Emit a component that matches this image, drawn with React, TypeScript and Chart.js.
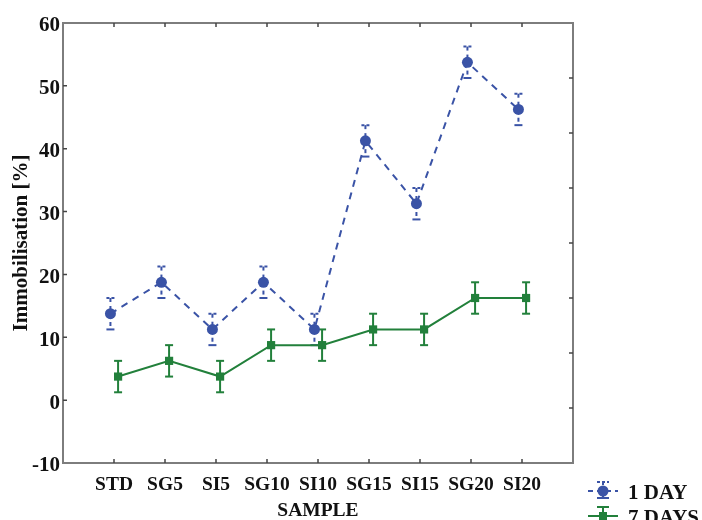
import { useEffect, useRef } from "react";
import { Chart, registerables } from "chart.js";

Chart.register(...registerables);

// ---- data ----
const CATEGORIES = ["STD", "SG5", "SI5", "SG10", "SI10", "SG15", "SI15", "SG20", "SI20"];
const SERIES_LABELS = ["1 DAY", "7 DAYS"];
const DAY1_VALUES = [13.75, 18.75, 11.25, 18.75, 11.25, 41.25, 31.25, 53.75, 46.25];
const DAY1_ERRORS = [2.5, 2.5, 2.5, 2.5, 2.5, 2.5, 2.5, 2.5, 2.5];
const DAY7_VALUES = [3.75, 6.25, 3.75, 8.75, 8.75, 11.25, 11.25, 16.25, 16.25];
const DAY7_ERRORS = [2.5, 2.5, 2.5, 2.5, 2.5, 2.5, 2.5, 2.5, 2.5];
const DAY1_SHIFT = -0.07;
const DAY7_SHIFT = 0.08;
const Y_MIN = -10;
const Y_MAX = 60;
const Y_STEP = 10;
const RIGHT_DIVISIONS = 8;

const BLUE = "#3a53a6";
const GREEN = "#22803b";
const FONT = "'Liberation Serif', 'Times New Roman', serif";

const frameAndErrorPlugin = {
  id: "frameAndError",
  beforeDatasetsDraw(chart: any) {
    const { ctx, chartArea } = chart;
    const { left, right, top, bottom } = chartArea;
    const xs = chart.scales.x;
    const ys = chart.scales.y;
    const y2 = chart.scales.y2;
    ctx.save();
    // frame
    ctx.strokeStyle = "#7d7d7d";
    ctx.lineWidth = 2;
    ctx.strokeRect(left, top, right - left, bottom - top);
    // inner ticks
    ctx.strokeStyle = "#444";
    ctx.lineWidth = 1.5;
    const tl = 4;
    ctx.beginPath();
    CATEGORIES.forEach((_, i) => {
      const px = xs.getPixelForValue(i + 1);
      ctx.moveTo(px, top);
      ctx.lineTo(px, top + tl);
      ctx.moveTo(px, bottom);
      ctx.lineTo(px, bottom - tl);
    });
    for (let v = Y_MIN + Y_STEP; v < Y_MAX; v += Y_STEP) {
      const py = ys.getPixelForValue(v);
      ctx.moveTo(left, py);
      ctx.lineTo(left + tl, py);
    }
    for (let k = 1; k < RIGHT_DIVISIONS; k++) {
      const py = y2 ? y2.getPixelForValue(k) : top + ((bottom - top) * k) / RIGHT_DIVISIONS;
      ctx.moveTo(right, py);
      ctx.lineTo(right - tl, py);
    }
    ctx.stroke();

    // error bars
    chart.data.datasets.forEach((ds: any, di: number) => {
      const meta = chart.getDatasetMeta(di);
      ctx.strokeStyle = ds.borderColor;
      ctx.lineWidth = 2;
      meta.data.forEach((el: any, i: number) => {
        const v = ds.data[i].y;
        const e = ds.errors[i];
        const yt = ys.getPixelForValue(v + e);
        const yb = ys.getPixelForValue(v - e);
        const x = el.x;
        ctx.setLineDash(ds.borderDash && ds.borderDash.length ? [4, 4] : []);
        ctx.beginPath();
        ctx.moveTo(x, yt);
        ctx.lineTo(x, yb);
        ctx.stroke();
        ctx.setLineDash(ds.borderDash && ds.borderDash.length ? [3, 2] : []);
        ctx.beginPath();
        ctx.moveTo(x - 4, yt);
        ctx.lineTo(x + 4, yt);
        ctx.stroke();
        ctx.setLineDash([]);
        ctx.beginPath();
        ctx.moveTo(x - 4, yb);
        ctx.lineTo(x + 4, yb);
        ctx.stroke();
      });
    });
    ctx.restore();
  },
  afterDraw(chart: any) {
    const { ctx, chartArea } = chart;
    const x0 = chartArea.right + 15;
    const rowY = [491, 516];
    ctx.save();
    chart.data.datasets.forEach((ds: any, di: number) => {
      const y = rowY[di];
      const cx = x0 + 15;
      const dashed = ds.borderDash && ds.borderDash.length;
      ctx.strokeStyle = ds.borderColor;
      ctx.fillStyle = ds.backgroundColor;
      ctx.lineWidth = 2;
      // line
      ctx.setLineDash(dashed ? [5, 4] : []);
      ctx.beginPath();
      ctx.moveTo(x0, y);
      ctx.lineTo(x0 + 30, y);
      ctx.stroke();
      // error bar
      ctx.setLineDash(dashed ? [3, 3] : []);
      ctx.beginPath();
      ctx.moveTo(cx, y - 9);
      ctx.lineTo(cx, y + 7);
      ctx.stroke();
      ctx.setLineDash(dashed ? [3, 2] : []);
      ctx.beginPath();
      ctx.moveTo(cx - 6, y - 9);
      ctx.lineTo(cx + 6, y - 9);
      ctx.stroke();
      ctx.setLineDash([]);
      ctx.beginPath();
      ctx.moveTo(cx - 6, y + 7);
      ctx.lineTo(cx + 6, y + 7);
      ctx.stroke();
      // marker
      ctx.beginPath();
      if (ds.pointStyle === "rect") {
        ctx.rect(cx - 4, y - 4, 8, 8);
      } else {
        ctx.arc(cx, y, 5.5, 0, Math.PI * 2);
      }
      ctx.fill();
      // text
      ctx.fillStyle = "#111";
      ctx.font = `bold 21px ${FONT}`;
      ctx.textAlign = "left";
      ctx.textBaseline = "alphabetic";
      ctx.fillText(ds.label, x0 + 40, y + 8);
    });
    ctx.restore();
  },
};

export default function App() {
  const ref = useRef<HTMLCanvasElement | null>(null);

  useEffect(() => {
    if (!ref.current) return;
    const chart = new Chart(ref.current, {
      type: "line",
      data: {
        datasets: [
          {
            label: SERIES_LABELS[0],
            data: DAY1_VALUES.map((v, i) => ({ x: i + 1 + DAY1_SHIFT, y: v })),
            errors: DAY1_ERRORS,
            borderColor: BLUE,
            backgroundColor: BLUE,
            borderWidth: 2,
            borderDash: [7, 6],
            pointStyle: "circle",
            pointRadius: 5.5,
            pointBorderWidth: 0,
            tension: 0,
          } as any,
          {
            label: SERIES_LABELS[1],
            data: DAY7_VALUES.map((v, i) => ({ x: i + 1 + DAY7_SHIFT, y: v })),
            errors: DAY7_ERRORS,
            borderColor: GREEN,
            backgroundColor: GREEN,
            borderWidth: 2,
            borderDash: [],
            pointStyle: "rect",
            pointRadius: 5.8,
            pointBorderWidth: 0,
            tension: 0,
          } as any,
        ],
      },
      options: {
        responsive: false,
        animation: false,
        layout: { padding: { top: 23, right: 129, left: 0, bottom: 0 } },
        plugins: {
          legend: { display: false },
          tooltip: { enabled: false },
        },
        scales: {
          x: {
            type: "linear",
            min: 0,
            max: CATEGORIES.length + 1,
            afterBuildTicks: (scale: any) => {
              scale.ticks = CATEGORIES.map((_, i) => ({ value: i + 1 }));
            },
            afterFit: (scale: any) => {
              scale.height = 57;
            },
            grid: { display: false, drawTicks: false },
            border: { display: false },
            ticks: {
              autoSkip: false,
              maxRotation: 0,
              minRotation: 0,
              padding: 10,
              color: "#111",
              font: { family: FONT, size: 19.5, weight: "bold" },
              callback: (value: any) => CATEGORIES[Math.round(value) - 1] ?? "",
            },
            title: {
              display: true,
              text: "SAMPLE",
              color: "#111",
              padding: { top: 0, bottom: 0 },
              font: { family: FONT, size: 19.5, weight: "bold", lineHeight: 0.9 },
            },
          },
          y: {
            type: "linear",
            min: Y_MIN,
            max: Y_MAX,
            afterFit: (scale: any) => {
              scale.width = 63;
            },
            grid: { display: false, drawTicks: false },
            border: { display: false },
            ticks: {
              stepSize: Y_STEP,
              padding: 3,
              labelOffset: 3,
              color: "#111",
              font: { family: FONT, size: 21, weight: "bold" },
            },
            title: {
              display: true,
              text: "Immobilisation [%]",
              color: "#111",
              padding: { top: 9, bottom: 0 },
              font: { family: FONT, size: 21, weight: "bold" },
            },
          },
          y2: {
            type: "linear",
            display: false,
            position: "right",
            min: 0,
            max: RIGHT_DIVISIONS,
          },
        },
      } as any,
      plugins: [frameAndErrorPlugin],
    });
    return () => chart.destroy();
  }, []);

  return (
    <div style={{ position: "fixed", left: 0, top: 0, width: 702, height: 520, background: "#fff" }}>
      <canvas ref={ref} width={702} height={520} />
    </div>
  );
}
